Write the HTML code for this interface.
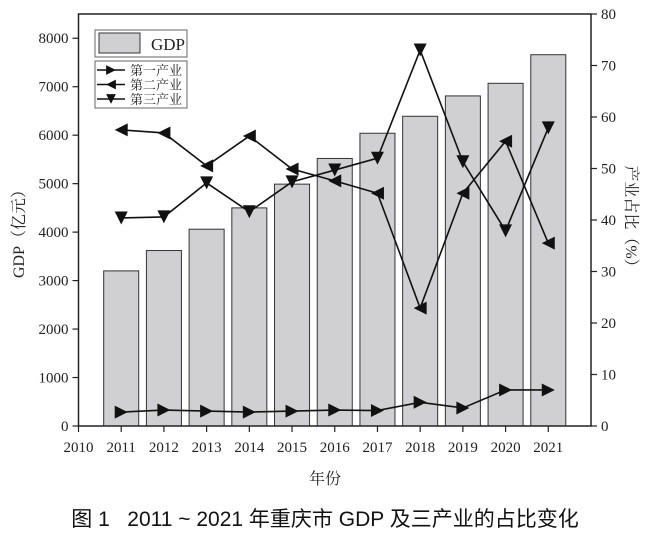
<!DOCTYPE html>
<html><head><meta charset="utf-8"><style>
body{margin:0;background:#fff;width:650px;height:543px;overflow:hidden}
svg text{font-family:"Liberation Serif","Noto Serif CJK SC",serif;fill:#222}
</style></head><body>
<svg id="c" width="650" height="543"></svg>
<div style="position:absolute;left:0;top:503;width:650px;text-align:center;font:21px 'Liberation Sans','Noto Sans CJK SC',sans-serif;color:#111;top:503px;position:absolute">图 1&nbsp;&nbsp; 2011 ~ 2021 年重庆市 GDP 及三产业的占比变化</div>
<script>
const years=[2011,2012,2013,2014,2015,2016,2017,2018,2019,2020,2021];
const gdp=[3200,3620,4060,4500,4990,5520,6040,6390,6810,7070,7660];
const primary=[2.7,3.1,2.9,2.7,2.9,3.1,3.0,4.6,3.5,7.0,7.0];
const secondary=[57.5,56.9,50.5,56.3,49.9,47.6,45.2,22.9,45.2,55.3,35.5];
const tertiary=[40.4,40.6,47.2,41.6,47.4,49.7,52.0,73.0,51.3,37.9,57.9];
const xTicks=[2010,2011,2012,2013,2014,2015,2016,2017,2018,2019,2020,2021];
const yLeftTicks=[0,1000,2000,3000,4000,5000,6000,7000,8000];
const yRightTicks=[0,10,20,30,40,50,60,70,80];
const L=78.5,R=591,T=14,B=426;
const X=v=>L+(v-2010)/12*(R-L);
const YL=v=>B-v/8500*(B-T);
const YR=v=>B-v/80*(B-T);
const svg=document.getElementById('c');const NS='http://www.w3.org/2000/svg';
function mk(t,a,p){const e=document.createElementNS(NS,t);for(const k in a)e.setAttribute(k,a[k]);(p||svg).appendChild(e);return e;}
const bw=(X(2011)-X(2010))*0.82;
years.forEach((y,i)=>{const b=mk('rect',{x:X(y)-bw/2,y:YL(gdp[i]),width:bw,height:B-YL(gdp[i]),fill:'#d0d0d2',stroke:'#333','stroke-width':1});

});
const f=mk('rect',{x:L,y:T,width:R-L,height:B-T,fill:'none',stroke:'#222','stroke-width':1.5});

xTicks.forEach(t=>{mk('line',{x1:X(t),x2:X(t),y1:B,y2:B+6,stroke:'#222','stroke-width':1.2});
const tx=mk('text',{x:X(t),y:B+26,'text-anchor':'middle','font-size':15});tx.textContent=t;
});
yLeftTicks.forEach(t=>{mk('line',{x1:L-6,x2:L,y1:YL(t),y2:YL(t),stroke:'#222','stroke-width':1.2});
const tx=mk('text',{x:L-10,y:YL(t)+5,'text-anchor':'end','font-size':15});tx.textContent=t;
});
yRightTicks.forEach(t=>{mk('line',{x1:R,x2:R+6,y1:YR(t),y2:YR(t),stroke:'#222','stroke-width':1.2});
const tx=mk('text',{x:R+10,y:YR(t)+5,'font-size':15});tx.textContent=t;
});
function tri(cx,cy,dir){const s=6.5;let p;
if(dir=='r')p=[[cx-s,cy-s],[cx+s,cy],[cx-s,cy+s]];
else if(dir=='l')p=[[cx+s,cy-s],[cx-s,cy],[cx+s,cy+s]];
else p=[[cx-s,cy-s],[cx+s,cy-s],[cx,cy+s]];
return mk('polygon',{points:p.map(q=>q.join(',')).join(' '),fill:'#111'});}
function series(vals,dir,name){const pl=mk('polyline',{points:years.map((y,i)=>X(y)+','+YR(vals[i])).join(' '),fill:'none',stroke:'#111','stroke-width':1.6});

years.forEach((y,i)=>{const m=tri(X(y),YR(vals[i]),dir);});}
series(primary,'r','primary-industry');series(secondary,'l','secondary-industry');series(tertiary,'d','tertiary-industry');
// legend
const lg=mk('rect',{x:95,y:30,width:92,height:27,fill:'#fff',stroke:'#666'});
mk('rect',{x:99,y:33,width:41,height:20,fill:'#d0d0d2',stroke:'#333'});
let t=mk('text',{x:151,y:50,'font-size':17});t.textContent='GDP';
const lg2=mk('rect',{x:95,y:61,width:92,height:47,fill:'#fff',stroke:'#666'});
[['r','第一产业'],['l','第二产业'],['d','第三产业']].forEach((e,i)=>{const y=70+i*14.5;
mk('line',{x1:97,x2:125,y1:y,y2:y,stroke:'#111','stroke-width':1.5});tri(111,y,e[0]).setAttribute('transform',`translate(111,${y}) scale(0.75) translate(-111,-${y})`);
const tx=mk('text',{x:130,y:y+5,'font-size':13});tx.textContent=e[1];});
t=mk('text',{x:325,y:484,'text-anchor':'middle','font-size':16});t.textContent='年份';
t=mk('text',{x:0,y:0,'text-anchor':'middle','font-size':16,transform:'translate(24,230) rotate(-90)'});t.textContent='GDP（亿元）';
t=mk('text',{x:0,y:0,'text-anchor':'middle','font-size':16,transform:'translate(626,220) rotate(90)'});t.textContent='产业占比（%）';
</script>
</body></html>
